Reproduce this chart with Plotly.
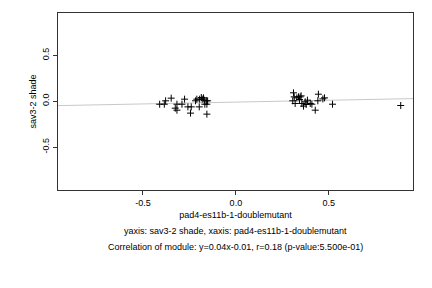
import plotly.graph_objects as go

x_vals = [-0.410, -0.385, -0.378, -0.348, -0.326, -0.317, -0.317, -0.290, -0.276,
          -0.258, -0.240, -0.244, -0.217, -0.210, -0.197, -0.195, -0.186, -0.181,
          -0.174, -0.170, -0.167, -0.159, -0.156, -0.152, -0.156,
          0.310, 0.314, 0.319, 0.306, 0.328, 0.337, 0.342, 0.346, 0.351, 0.355,
          0.364, 0.373, 0.378, 0.385, 0.400, 0.409, 0.441, 0.444, 0.427, 0.468,
          0.477, 0.520, 0.887]
y_vals = [-0.033, -0.033, 0.004, 0.033, -0.076, -0.098, -0.033, -0.033, 0.022,
          -0.062, -0.062, -0.130, 0.004, 0.022, -0.062, 0.022, 0.040, 0.022,
          0.036, 0.011, -0.033, 0.004, -0.033, 0.004, -0.141,
          0.091, 0.047, -0.025, 0.004, 0.036, 0.047, 0.018, 0.047, 0.058, -0.025,
          -0.054, -0.007, -0.036, 0.011, -0.025, -0.033, 0.004, 0.076, -0.098, 0.025,
          0.036, -0.033, -0.047]
slope = 0.04
intercept = -0.01
x_range = [-0.957, 0.953]
y_range = [-0.967, 0.96]
x_tickvals = [-0.5, 0.0, 0.5]
x_ticktext = ["-0.5", "0.0", "0.5"]
y_tickvals = [-0.5, 0.0, 0.5]
y_ticktext = ["-0.5", "0.0", "0.5"]
x_title = "pad4-es11b-1-doublemutant"
y_title = "sav3-2 shade"
line1 = "yaxis: sav3-2 shade, xaxis: pad4-es11b-1-doublemutant"
line2 = "Correlation of module: y=0.04x-0.01, r=0.18 (p-value:5.500e-01)"

font = "Liberation Sans, Arial, sans-serif"

fig = go.Figure()
fig.add_trace(go.Scatter(
    x=x_range, y=[slope * v + intercept for v in x_range],
    mode="lines", line=dict(color="#c8c8c8", width=1), hoverinfo="skip"))
fig.add_trace(go.Scatter(
    x=x_vals, y=y_vals, mode="markers",
    marker=dict(symbol="cross-thin", size=5, line=dict(color="black", width=1), color="black")))

fig.update_layout(
    width=432, height=288,
    margin=dict(l=58, r=19, t=13, b=98),
    paper_bgcolor="white", plot_bgcolor="white",
    showlegend=False,
    font=dict(family=font, size=9, color="black"),
    xaxis=dict(range=x_range, tickvals=x_tickvals, ticktext=x_ticktext,
               showgrid=False, zeroline=False, showline=True, mirror=True,
               linecolor="#333", linewidth=1, ticks="outside", ticklen=4,
               tickcolor="#333", tickfont=dict(color="black"),
               title=dict(text=x_title, standoff=4, font=dict(size=9, color="black"))),
    yaxis=dict(range=y_range, tickvals=y_tickvals, ticktext=y_ticktext,
               showgrid=False, zeroline=False, showline=True, mirror=True,
               linecolor="#333", linewidth=1, ticks="outside", ticklen=4,
               tickcolor="#333", tickangle=-90, tickfont=dict(color="black"),
               title=dict(text=y_title, standoff=3, font=dict(size=9, color="black"))),
    annotations=[
        dict(text=line1, xref="paper", yref="paper", x=0.5, y=0, yshift=-41,
             showarrow=False, xanchor="center", yanchor="middle", font=dict(size=9, color="black")),
        dict(text=line2, xref="paper", yref="paper", x=0.5, y=0, yshift=-57,
             showarrow=False, xanchor="center", yanchor="middle", font=dict(size=9, color="black")),
    ],
)

fig.write_html("out.html")
